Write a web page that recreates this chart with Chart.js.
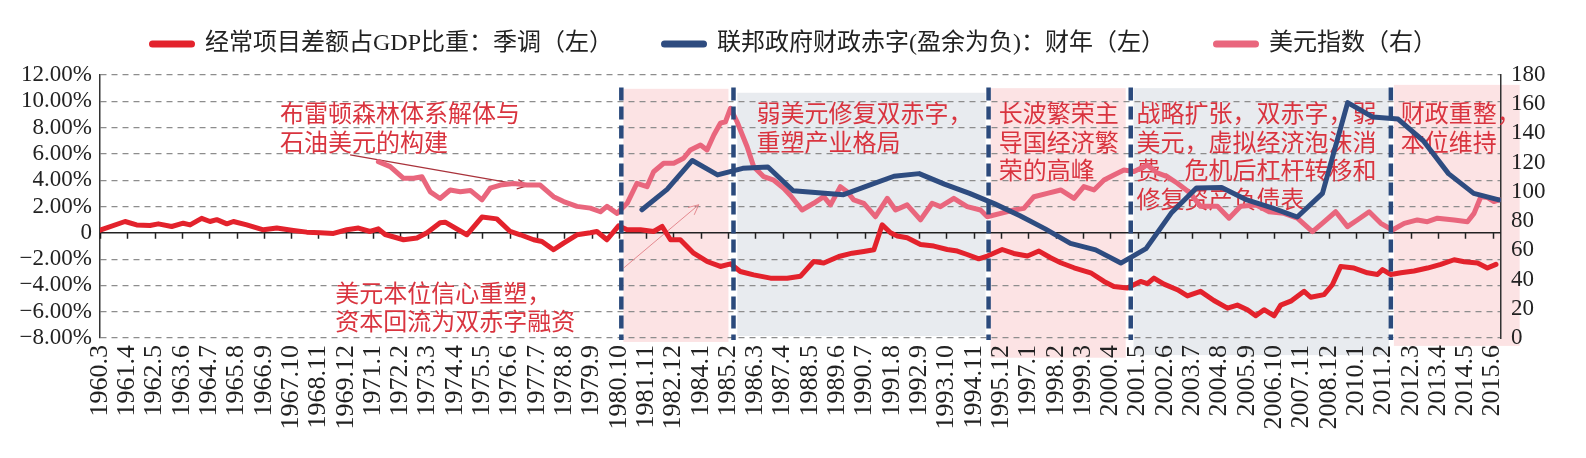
<!DOCTYPE html>
<html>
<head>
<meta charset="utf-8">
<script src="https://cdn.jsdelivr.net/npm/chart.js@4.4.0/dist/chart.umd.min.js"></script>
<style>
  html, body { margin: 0; padding: 0; background: #fff; }
  #wrap { width: 1586px; height: 458px; }
</style>
</head>
<body>
<div id="wrap"><canvas id="twinDeficit" width="1586" height="458"></canvas></div>
<script>
// bottom labels, one every 13 months
const xTickLabels = ['1960.3', '1961.4', '1962.5', '1963.6', '1964.7', '1965.8', '1966.9', '1967.10', '1968.11', '1969.12',
    '1971.1', '1972.2', '1973.3', '1974.4', '1975.5', '1976.6', '1977.7', '1978.8', '1979.9', '1980.10', '1981.11', '1982.12',
    '1984.1', '1985.2', '1986.3', '1987.4', '1988.5', '1989.6', '1990.7', '1991.8', '1992.9', '1993.10', '1994.11', '1995.12',
    '1997.1', '1998.2', '1999.3', '2000.4', '2001.5', '2002.6', '2003.7', '2004.8', '2005.9', '2006.10', '2007.11', '2008.12',
    '2010.1', '2011.2', '2012.3', '2013.4', '2014.5', '2015.6'];

// current account balance / GDP, seasonally adjusted, % -- [decimal year, value]
const currentAccount = [
    [1960.17, 0.2], [1961.16, 0.86], [1961.62, 0.6], [1962.15, 0.56], [1962.48, 0.68], [1963.01, 0.48], [1963.47, 0.73],
    [1963.74, 0.6], [1964.2, 1.1], [1964.53, 0.86], [1964.8, 1.0], [1965.2, 0.68], [1965.46, 0.86], [1965.99, 0.6],
    [1966.65, 0.23], [1967.18, 0.36], [1967.84, 0.18], [1968.37, 0.05], [1968.9, 0], [1969.43, -0.05], [1969.96, 0.23],
    [1970.42, 0.36], [1970.88, 0.1], [1971.21, 0.3], [1971.48, -0.13], [1972.21, -0.53], [1972.74, -0.4], [1973.14, 0],
    [1973.66, 0.76], [1973.86, 0.81], [1974.72, -0.15], [1975.32, 1.2], [1975.91, 1.06], [1976.44, 0.1], [1976.84, -0.15],
    [1977.37, -0.53], [1977.7, -0.66], [1978.16, -1.29], [1978.56, -0.78], [1979.09, -0.15], [1979.62, 0], [1979.88, 0.1],
    [1980.28, -0.53], [1980.74, 0.53], [1981.08, 0.23], [1981.61, 0.23], [1982.13, 0.1], [1982.47, 0.48], [1982.8, -0.53],
    [1983.19, -0.53], [1983.72, -1.55], [1984.25, -2.18], [1984.78, -2.56], [1985.18, -2.36], [1985.57, -2.94], [1986.1, -3.2],
    [1986.77, -3.45], [1987.43, -3.45], [1987.96, -3.3], [1988.48, -2.18], [1988.88, -2.3], [1989.48, -1.8], [1990.01, -1.55],
    [1990.47, -1.42], [1990.87, -1.29], [1991.2, 0.61], [1991.53, 0], [1991.8, -0.25], [1992.19, -0.38], [1992.72, -0.89],
    [1993.25, -1.01], [1993.78, -1.27], [1994.18, -1.39], [1994.57, -1.65], [1995.03, -1.98], [1995.37, -1.77], [1995.96, -1.27],
    [1996.42, -1.57], [1996.96, -1.77], [1997.42, -1.39], [1997.88, -1.9], [1998.28, -2.28], [1998.81, -2.66], [1999.47, -3.04],
    [2000.0, -3.7], [2000.39, -4.08], [2000.92, -4.2], [2001.45, -3.7], [2001.72, -3.87], [2001.98, -3.45], [2002.38, -3.9],
    [2002.91, -4.33], [2003.31, -4.8], [2003.83, -4.45], [2004.36, -5.15], [2004.9, -5.73], [2005.29, -5.5], [2005.69, -5.85],
    [2006.02, -6.31], [2006.35, -5.85], [2006.75, -6.31], [2007.01, -5.5], [2007.41, -5.2], [2007.94, -4.45], [2008.2, -4.9],
    [2008.73, -4.7], [2009.06, -3.95], [2009.39, -2.56], [2009.92, -2.68], [2010.45, -3.04], [2010.85, -3.17], [2011.05, -2.8],
    [2011.38, -3.17], [2011.78, -3.04], [2012.3, -2.9], [2012.83, -2.68], [2013.36, -2.4], [2013.89, -2.05], [2014.29, -2.2],
    [2014.82, -2.3], [2015.21, -2.68], [2015.55, -2.4]
];

// federal deficit / GDP by fiscal year (ends in September), surplus negative, %
const fiscalYears = [1981, 1982, 1983, 1984, 1985, 1986, 1987, 1988, 1989, 1990, 1991, 1992, 1993, 1994, 1995, 1996, 1997,
    1998, 1999, 2000, 2001, 2002, 2003, 2004, 2005, 2006, 2007, 2008, 2009, 2010, 2011, 2012, 2013, 2014, 2015];
const fiscalDeficit = [1.75, 3.3, 5.5, 4.4, 4.9, 5.0, 3.2, 3.05, 2.9, 3.6, 4.3, 4.5, 3.7, 3.0, 2.2, 1.3, 0.3,
    -0.8, -1.3, -2.3, -1.2, 1.5, 3.4, 3.45, 2.5, 1.9, 1.2, 3.0, 9.9, 8.8, 8.65, 7.0, 4.5, 3.0, 2.5];

// dollar index (right axis) -- [decimal year, value]
const dollarIndex = [
    [1971.21, 120.7], [1971.68, 117.3], [1972.21, 109.3], [1972.61, 109.3], [1972.94, 110.4], [1973.27, 100], [1973.66, 95.5],
    [1974.06, 101.3], [1974.46, 100.1], [1974.86, 101], [1975.32, 94.5], [1975.65, 102.5], [1976.05, 104.7], [1976.58, 105.8],
    [1977.1, 104.7], [1977.63, 104.7], [1978.16, 96.7], [1978.56, 93.4], [1979.09, 90.1], [1979.62, 88.9], [1980.02, 86.4],
    [1980.28, 90.1], [1980.68, 85.3], [1981.08, 92.2], [1981.47, 105.9], [1981.87, 103.6], [1982.13, 113.8], [1982.53, 119.6],
    [1982.93, 119.6], [1983.32, 123], [1983.59, 128.7], [1983.99, 132.1], [1984.25, 128.7], [1984.52, 138.9], [1984.78, 147],
    [1984.98, 148], [1985.18, 157.2], [1985.44, 148], [1985.84, 130.9], [1986.1, 117.3], [1986.5, 110.4], [1986.9, 108],
    [1987.29, 102.5], [1987.56, 97.5], [1988.02, 87.6], [1988.48, 92.2], [1988.88, 96.7], [1989.15, 91.1], [1989.54, 103.6],
    [1989.81, 100.1], [1990.07, 94.5], [1990.47, 92.2], [1990.93, 83], [1991.4, 95.6], [1991.73, 87.6], [1992.19, 91.1],
    [1992.72, 80.8], [1993.18, 92.2], [1993.51, 89.9], [1994.04, 95.6], [1994.57, 89.9], [1995.1, 87.6], [1995.37, 83],
    [1995.9, 85.3], [1996.42, 87.6], [1996.82, 88.7], [1997.22, 96.7], [1997.75, 99], [1998.28, 101.3], [1998.81, 95.6],
    [1999.2, 103.6], [1999.6, 101.3], [2000.0, 108.1], [2000.39, 111.6], [2000.79, 115], [2001.19, 114], [2001.72, 118.4],
    [2002.11, 113], [2002.51, 110.4], [2002.91, 105.9], [2003.43, 99], [2003.83, 90.1], [2004.5, 90.1], [2004.96, 82],
    [2005.42, 90.1], [2006.02, 91.1], [2006.55, 86.4], [2007.14, 85.3], [2007.67, 82], [2008.27, 72.8], [2008.66, 78.5],
    [2009.19, 86.4], [2009.66, 76.2], [2010.05, 80.8], [2010.52, 86.4], [2010.98, 78.5], [2011.44, 73.9], [2011.91, 78.5],
    [2012.43, 80.8], [2012.83, 79.6], [2013.23, 82], [2013.89, 80.8], [2014.42, 79.6], [2014.68, 85.3], [2014.95, 96.7],
    [2015.21, 96.2], [2015.47, 93.4], [2015.68, 94.5]
];

// shaded periods [from, to] and the dashed breaks between them (decimal years)
const periods = [[1980.93, 1985.1], [1985.45, 1995.3], [1995.5, 2000.86], [2001.17, 2011.3], [2011.5, 2016.49]];
const periodBreaks = [1980.85, 1985.3, 1995.42, 2001.06, 2011.38];

// text notes, anchored at [year, % on left axis]
const notes = [
    { at: [1967.31, 9.1], lines: ['布雷顿森林体系解体与', '石油美元的构建'] },
    { at: [1969.5, -4.56], lines: ['美元本位信心重塑，', '资本回流为双赤字融资'] },
    { at: [1986.21, 9.1], lines: ['弱美元修复双赤字，', '重塑产业格局'] },
    { at: [1995.82, 9.1], lines: ['长波繁荣主', '导国经济繁', '荣的高峰'] },
    { at: [2001.29, 9.1], lines: ['战略扩张，双赤字，弱', '美元，虚拟经济泡沫消', '费，危机后杠杆转移和', '修复资产负债表'] },
    { at: [2011.77, 9.1], lines: ['财政重整，', '本位维持'] }
];
const noteArrows = [
    [[1970.09, 5.93], [1977.12, 3.57]],
    [[1980.94, -2.68], [1983.92, 2.13]]
];

const SERIF = '"Liberation Serif", "Noto Sans CJK SC", serif';
const CJK = '"Noto Sans CJK SC", "Liberation Serif", sans-serif';
const RED = '#e3222c';
const NAVY = '#2e4c80';
const PINK = '#e9667d';
const NOTE_RED = '#d9343f';

function labelToYear(s) {
    const [y, m] = s.split('.').map(Number);
    return y + (m - 1) / 12;
}

function pctLabel(v) {
    if (v === 0) return '0';
    return (v < 0 ? '\u2212' : '') + Math.abs(v).toFixed(2) + '%';
}

function drawArrow(ctx, x0, y0, x1, y1, color, width) {
    const a = Math.atan2(y1 - y0, x1 - x0), h = 11;
    ctx.strokeStyle = color;
    ctx.lineWidth = width;
    ctx.beginPath();
    ctx.moveTo(x0, y0);
    ctx.lineTo(x1, y1);
    ctx.moveTo(x1 - h * Math.cos(a - 0.45), y1 - h * Math.sin(a - 0.45));
    ctx.lineTo(x1, y1);
    ctx.lineTo(x1 - h * Math.cos(a + 0.45), y1 - h * Math.sin(a + 0.45));
    ctx.stroke();
}

const decorations = {
    id: 'decorations',
    beforeDraw(chart) {
        // shaded background bands
        const { ctx, scales: { x, y } } = chart;
        const bands = [
            { color: '#fce3e4', top: 10.95, bottom: -8.3 },
            { color: '#e8ebef', top: 10.65, bottom: -7.85 },
            { color: '#fce3e4', top: 11.0, bottom: -9.5 },
            { color: '#e8ebef', top: 11.0, bottom: -9.3 },
            { color: '#fce3e4', top: 11.25, bottom: -8.6 }
        ];
        ctx.save();
        periods.forEach(([from, to], i) => {
            const b = bands[i];
            const x0 = x.getPixelForValue(from), x1 = x.getPixelForValue(to);
            const y0 = y.getPixelForValue(b.top), y1 = y.getPixelForValue(b.bottom);
            ctx.fillStyle = b.color;
            ctx.fillRect(x0, y0, x1 - x0, y1 - y0);
        });
        ctx.restore();
    },
    beforeDatasetsDraw(chart) {
        const { ctx, chartArea, scales: { x, y } } = chart;
        ctx.save();
        // zero line with tick marks
        const y0 = y.getPixelForValue(0);
        ctx.strokeStyle = '#222';
        ctx.lineWidth = 1.5;
        ctx.beginPath();
        ctx.moveTo(chartArea.left, y0);
        ctx.lineTo(chartArea.right, y0);
        x.ticks.forEach(t => {
            const px = Math.round(x.getPixelForValue(t.value)) + 0.5;
            ctx.moveTo(px, y0);
            ctx.lineTo(px, y0 + 6);
        });
        ctx.stroke();

        // notes
        ctx.fillStyle = NOTE_RED;
        ctx.font = '24px ' + CJK;
        ctx.textAlign = 'left';
        ctx.textBaseline = 'middle';
        notes.forEach(n => {
            const px = x.getPixelForValue(n.at[0]);
            const py = y.getPixelForValue(n.at[1]);
            n.lines.forEach((line, i) => ctx.fillText(line, px, py + i * 28.5));
        });
        noteArrows.forEach(([from, to], i) => {
            drawArrow(ctx, x.getPixelForValue(from[0]), y.getPixelForValue(from[1]),
                x.getPixelForValue(to[0]), y.getPixelForValue(to[1]),
                i === 0 ? '#a9323b' : '#e58a90', i === 0 ? 1.3 : 1);
        });
        ctx.restore();
    },
    afterDatasetsDraw(chart) {
        const { ctx, scales: { x, y } } = chart;
        ctx.save();
        // dashed period breaks
        ctx.strokeStyle = '#2b4a7c';
        ctx.lineWidth = 4.5;
        ctx.setLineDash([13, 6]);
        periodBreaks.forEach(v => {
            const px = x.getPixelForValue(v);
            ctx.beginPath();
            ctx.moveTo(px, y.getPixelForValue(11.05));
            ctx.lineTo(px, y.getPixelForValue(-8.15));
            ctx.stroke();
        });
        ctx.setLineDash([]);

        // legend
        const items = chart.data.datasets.map(ds => ({ text: ds.label, color: ds.borderColor }));
        ctx.font = '24px ' + SERIF;
        const boxW = 46, gapText = 10, gapItem = 48;
        const widths = items.map(it => boxW + gapText + ctx.measureText(it.text).width);
        const total = widths.reduce((a, b) => a + b, 0) + gapItem * (items.length - 1);
        let cx = (chart.width - total) / 2;
        const cy = 44;
        ctx.textAlign = 'left';
        ctx.textBaseline = 'middle';
        items.forEach((it, i) => {
            ctx.strokeStyle = it.color;
            ctx.lineWidth = 7;
            ctx.lineCap = 'round';
            ctx.beginPath();
            ctx.moveTo(cx + 3.5, cy);
            ctx.lineTo(cx + boxW - 3.5, cy);
            ctx.stroke();
            ctx.fillStyle = '#222';
            ctx.fillText(it.text, cx + boxW + gapText, cy);
            cx += widths[i] + gapItem;
        });
        ctx.restore();
    }
};

const lineStyle = {
    borderWidth: 5,
    pointRadius: 0,
    tension: 0,
    borderJoinStyle: 'round',
    borderCapStyle: 'round'
};

const ctx = document.getElementById('twinDeficit').getContext('2d');

new Chart(ctx, {
    type: 'line',
    data: {
        datasets: [
            {
                label: '经常项目差额占GDP比重：季调（左）',
                data: currentAccount.map(([x, y]) => ({ x, y })),
                yAxisID: 'y',
                borderColor: RED,
                backgroundColor: RED,
                ...lineStyle
            },
            {
                label: '联邦政府财政赤字(盈余为负)：财年（左）',
                data: fiscalYears.map((fy, i) => ({ x: fy + 8 / 12, y: fiscalDeficit[i] })),
                yAxisID: 'y',
                borderColor: NAVY,
                backgroundColor: NAVY,
                ...lineStyle
            },
            {
                label: '美元指数（右）',
                data: dollarIndex.map(([x, y]) => ({ x, y })),
                yAxisID: 'y2',
                borderColor: PINK,
                backgroundColor: PINK,
                ...lineStyle
            }
        ]
    },
    options: {
        responsive: false,
        animation: false,
        devicePixelRatio: 1,
        events: [],
        layout: { padding: { top: 75, left: 0, right: 0, bottom: 0 } },
        plugins: {
            legend: { display: false },
            tooltip: { enabled: false }
        },
        scales: {
            x: {
                type: 'linear',
                min: 1960 + 2 / 12,
                max: 2015.75,
                afterBuildTicks: scale => {
                    scale.ticks = xTickLabels.map(s => ({ value: labelToYear(s) }));
                },
                afterFit: scale => { scale.height = 120; },
                grid: { display: false, drawTicks: false },
                border: { display: false },
                ticks: {
                    autoSkip: false,
                    maxRotation: 90,
                    minRotation: 90,
                    padding: 7,
                    color: '#222',
                    font: { family: SERIF, size: 26 },
                    callback: (v, i) => xTickLabels[i]
                }
            },
            y: {
                position: 'left',
                min: -8,
                max: 12,
                afterFit: scale => { scale.width = 100; },
                ticks: {
                    stepSize: 2,
                    autoSkip: false,
                    padding: 8,
                    color: '#222',
                    font: { family: SERIF, size: 23 },
                    callback: v => pctLabel(v)
                },
                grid: {
                    drawTicks: false,
                    lineWidth: 1.2,
                    color: c => (c.tick && c.tick.value === 0) ? 'rgba(0,0,0,0)' : '#8d8d8d'
                },
                border: { display: true, color: '#333', width: 1.5, dash: [6, 5] }
            },
            y2: {
                position: 'right',
                min: 0,
                max: 180,
                afterFit: scale => { scale.width = 85; },
                ticks: {
                    stepSize: 20,
                    autoSkip: false,
                    padding: 10,
                    color: '#222',
                    font: { family: SERIF, size: 23 }
                },
                grid: { display: false, drawTicks: false },
                border: { display: true, color: '#333', width: 1.5 }
            }
        }
    },
    plugins: [decorations]
});
</script>
</body>
</html>
